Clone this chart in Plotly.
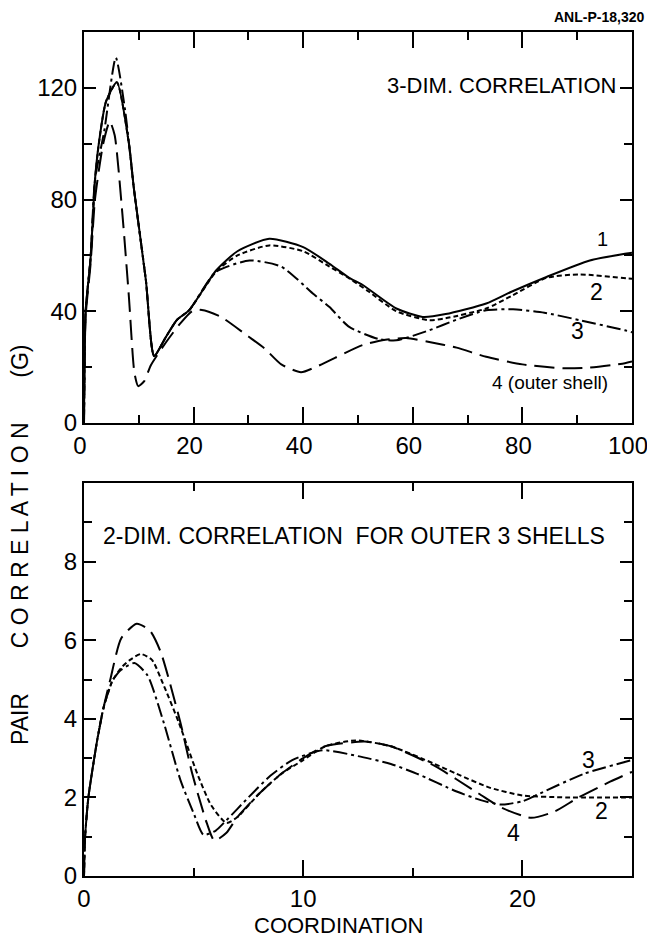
import plotly.graph_objects as go

# ---------- Top panel: 3-dim correlation ----------
x3_1 = [0, 0.3, 1.2, 2.0, 2.7, 4.0, 6.0, 8.2, 9.1, 11.3, 12.8, 15, 17, 19.2, 24.1, 28, 33.8, 40, 44.8, 48.4, 50.8, 57, 61.8, 66, 73.4, 78, 84.4, 92.3, 99, 100]
y3_1 = [0, 40, 59, 87, 100, 115, 122, 100, 84, 51, 24, 31, 37, 40.4, 54.6, 61.5, 66, 63, 57, 52, 49.5, 41, 38, 39, 42.8, 47, 52.3, 58.2, 60.7, 61]

x3_2 = [0, 0.3, 1.2, 2.0, 2.7, 4.0, 6.0, 8.2, 9.1, 11.3, 12.8, 15, 17, 19.2, 24.1, 28, 33.8, 40, 44.8, 48.4, 52, 57, 63, 66, 73.4, 78, 84.4, 90.5, 99, 100]
y3_2 = [0, 40, 59, 87, 100, 115, 122, 100, 84, 51, 24, 31, 37, 40.4, 54.2, 60, 63.6, 61.5, 56, 51.8, 47, 40, 36.8, 37.5, 41, 45.5, 52, 53.2, 51.8, 51.7]

x3_3 = [0, 0.3, 1.2, 2.0, 3.7, 5.8, 7.5, 9.1, 11.3, 12.8, 15, 17, 19.2, 24, 30.2, 36, 42, 44.8, 48.4, 53.9, 57, 63, 68, 73.4, 78.3, 84, 90.5, 98.7, 100]
y3_3 = [0, 40, 59, 87, 104.6, 130.8, 112, 84, 51, 24, 31, 37, 40.4, 54, 58.2, 56, 46, 41.5, 34.4, 30, 29.6, 33.2, 37, 40.4, 40.7, 39.5, 36.8, 33.2, 32.5]

x3_4 = [0, 0.3, 1.2, 2.0, 3.5, 4.7, 5.6, 7.0, 8.2, 9.2, 9.9, 11, 12.2, 15, 17.5, 19.7, 21.5, 25, 30, 32.9, 36, 39.6, 43, 50.8, 55, 58.8, 63, 68, 73.4, 80, 87.4, 92, 98.7, 100]
y3_4 = [0, 38, 57, 80, 100, 108, 103, 75, 45, 18, 13.2, 15, 20.7, 29, 35.5, 40, 40.5, 38, 31, 26.8, 21, 18.2, 20.7, 27.9, 29.8, 30.4, 29, 27, 23.7, 21, 19.6, 19.8, 21.4, 22]

# ---------- Bottom panel: 2-dim correlation ----------
x2_2 = [0, 0.05, 0.2, 0.6, 0.9, 1.3, 1.7, 2.1, 2.6, 3.1, 3.6, 4.33, 5.17, 5.8, 6.5, 7.0, 8.0, 9.0, 10.0, 11.0, 12.4, 14.0, 16.0, 17.0, 18.5, 20.0, 22.0, 25.0]
y2_2 = [0, 1, 2, 3.45, 4.3, 4.97, 5.3, 5.5, 5.65, 5.5, 4.9, 3.9, 2.6, 1.8, 1.35, 1.5, 2.1, 2.6, 2.95, 3.3, 3.45, 3.3, 2.85, 2.6, 2.25, 2.05, 2.0, 2.0]

x2_3 = [0, 0.05, 0.2, 0.6, 0.9, 1.3, 1.7, 2.3, 2.9, 3.65, 4.4, 5.0, 5.45, 6.0, 6.5, 7.5, 8.5, 9.5, 10.9, 12.5, 14, 15.2, 17, 18.1, 19, 20, 20.8, 22.8, 25]
y2_3 = [0, 1, 2, 3.45, 4.3, 4.97, 5.25, 5.42, 5.1, 3.88, 2.44, 1.6, 1.05, 1.15, 1.42, 2.0, 2.55, 2.95, 3.2, 3.05, 2.85, 2.6, 2.15, 1.93, 1.82, 1.9, 2.1, 2.6, 2.95]

x2_4 = [0, 0.05, 0.2, 0.6, 0.9, 1.2, 1.7, 2.4, 3.0, 3.5, 4.4, 4.94, 5.6, 5.95, 6.5, 7, 8, 9, 10, 11, 12.8, 14, 16, 18, 19, 20.4, 21.5, 22.5, 24, 25]
y2_4 = [0, 1, 2, 3.45, 4.3, 5.0, 6.05, 6.42, 6.25, 5.7, 3.9, 2.6, 1.35, 0.9, 1.1, 1.5, 2.1, 2.6, 3.0, 3.3, 3.42, 3.3, 2.8, 2.1, 1.75, 1.48, 1.65, 1.98, 2.4, 2.65]

top_xticks = [0, 20, 40, 60, 80, 100]
top_yticks = [0, 40, 80, 120]
bot_xticks = [0, 10, 20]
bot_yticks = [0, 2, 4, 6, 8]

SOLID = "solid"
SHORT = "5px,3px"
DASHDOT = "14px,4px,3px,4px"
LONG = "20px,8px"

FONT = "Liberation Sans"
fig = go.Figure()

def add(x, y, dash, xa, ya):
    fig.add_trace(go.Scatter(x=x, y=y, mode="lines", xaxis=xa, yaxis=ya,
                             line=dict(color="black", width=2, dash=dash, shape="spline", smoothing=0.6),
                             showlegend=False, hoverinfo="skip"))

add(x3_1, y3_1, SOLID, "x", "y")
add(x3_2, y3_2, SHORT, "x", "y")
add(x3_3, y3_3, DASHDOT, "x", "y")
add(x3_4, y3_4, LONG, "x", "y")

add(x2_2, y2_2, SHORT, "x2", "y2")
add(x2_3, y2_3, DASHDOT, "x2", "y2")
add(x2_4, y2_4, LONG, "x2", "y2")

axis_common = dict(showline=True, linecolor="black", linewidth=2, mirror="allticks",
                   ticks="inside", tickcolor="black", tickwidth=2, showgrid=False, zeroline=False,
                   ticklabeloverflow="allow", automargin=False,
                   tickfont=dict(family=FONT, size=24, color="black"))

fig.update_layout(
    width=647, height=937,
    margin=dict(l=84, r=15, t=32, b=61, autoexpand=False),
    paper_bgcolor="white", plot_bgcolor="white",
    xaxis=dict(domain=[0, 1], anchor="y", range=[0, 100], tickvals=top_xticks, ticklen=16,
               ticklabelshift=-4,
               minor=dict(tickvals=[10, 30, 50, 70, 90], ticklen=8, ticks="inside", tickcolor="black", tickwidth=2),
               **axis_common),
    yaxis=dict(domain=[0.5367, 1.0], anchor="x", range=[0, 140], tickvals=top_yticks, ticklen=12,
               minor=dict(tickvals=[20, 60, 100], ticklen=8, ticks="inside", tickcolor="black", tickwidth=2),
               ticklabelstandoff=0, **axis_common),
    xaxis2=dict(domain=[0, 1], anchor="y2", range=[0, 25], tickvals=bot_xticks, ticklen=16,
                minor=dict(tickvals=[5, 15], ticklen=8, ticks="inside", tickcolor="black", tickwidth=2),
                **axis_common),
    yaxis2=dict(domain=[0, 0.4656], anchor="x2", range=[0, 10], tickvals=bot_yticks, ticklen=12,
                minor=dict(tickvals=[1, 3, 5, 7, 9], ticklen=8, ticks="inside", tickcolor="black", tickwidth=2),
                ticklabelstandoff=0, **axis_common),
)

ann = []
ann.append(dict(text="<b>ANL-P-18,320</b>", xref="paper", yref="paper", x=1.025, y=1.0, yshift=15,
                xanchor="right", yanchor="middle", showarrow=False, font=dict(family=FONT, size=14, color="black")))
ann.append(dict(text="3-DIM. CORRELATION", xref="x", yref="y", x=97.5, y=121, xanchor="right", yanchor="middle",
                showarrow=False, font=dict(family=FONT, size=22, color="black")))
ann.append(dict(text="1", xref="x", yref="y", x=94.7, y=66, showarrow=False, font=dict(family=FONT, size=20, color="black")))
ann.append(dict(text="2", xref="x", yref="y", x=93.6, y=47, showarrow=False, font=dict(family=FONT, size=23, color="black")))
ann.append(dict(text="3", xref="x", yref="y", x=90, y=33, showarrow=False, font=dict(family=FONT, size=23, color="black")))
ann.append(dict(text="4 (outer shell)", xref="x", yref="y", x=85, y=14.5, showarrow=False, font=dict(family=FONT, size=19, color="black")))

ann.append(dict(text="2-DIM. CORRELATION  FOR OUTER 3 SHELLS", xref="x2", yref="y2", x=12.3, y=8.65,
                showarrow=False, font=dict(family=FONT, size=23, color="black")))
ann.append(dict(text="3", xref="x2", yref="y2", x=23.0, y=2.95, showarrow=False, font=dict(family=FONT, size=23, color="black")))
ann.append(dict(text="2", xref="x2", yref="y2", x=23.6, y=1.65, showarrow=False, font=dict(family=FONT, size=23, color="black")))
ann.append(dict(text="4", xref="x2", yref="y2", x=19.6, y=1.1, showarrow=False, font=dict(family=FONT, size=23, color="black")))

ann.append(dict(text="COORDINATION", xref="paper", yref="paper", x=0.465, y=0, yshift=-49,
                xanchor="center", yanchor="middle", showarrow=False, font=dict(family=FONT, size=22, color="black")))
gap = "&nbsp;" * 7
ann.append(dict(text="PAIR" + gap + "C O R R E L A T I O N" + gap + "(G)", xref="paper", yref="paper",
                x=0, xshift=-64, y=(876 - 545) / 844, textangle=-90, xanchor="center", yanchor="middle",
                showarrow=False, font=dict(family=FONT, size=23, color="black")))
fig.update_layout(annotations=ann)

fig.write_html("out.html")
